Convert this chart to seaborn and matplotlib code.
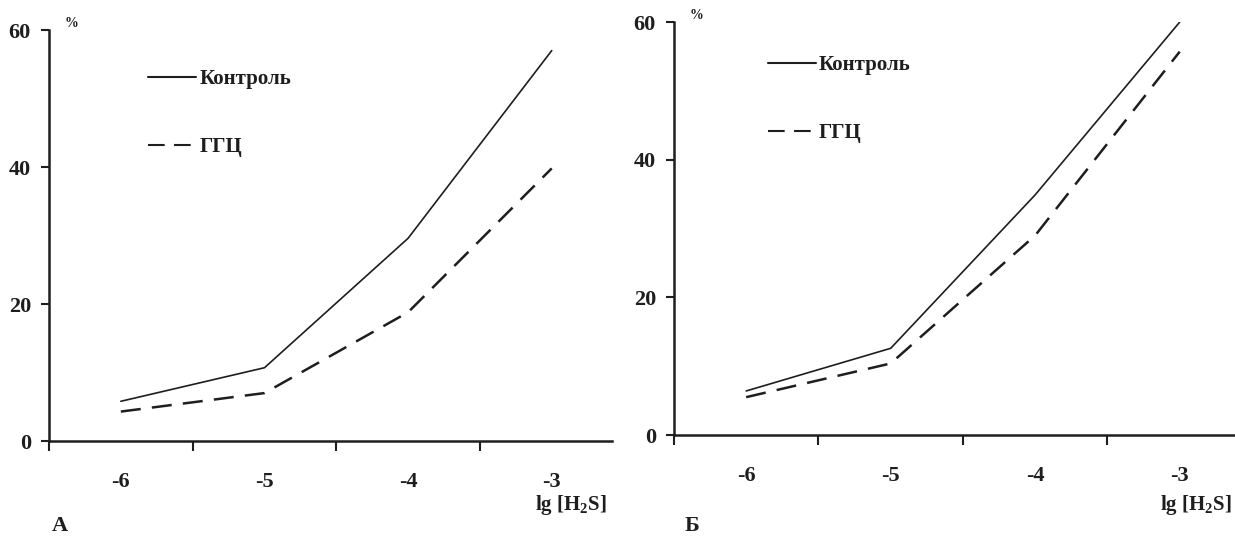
import numpy as np
import pandas as pd
import matplotlib
matplotlib.use("Agg")
import matplotlib.pyplot as plt
import seaborn as sns

# данные
lg_h2s = [-6, -5, -4, -3]
x_labels = ['-6', '-5', '-4', '-3']
series_names = ['Контроль', 'ГГЦ']

control_a = [5.8, 10.7, 29.6, 57.0]
ggc_a = [4.3, 7.0, 18.8, 39.8]

control_b = [6.4, 12.6, 34.9, 60.0]
ggc_b = [5.5, 10.4, 29.0, 55.7]

y_ticks = [0, 20, 40, 60]
panel_letters = ['А', 'Б']

sns.set_theme(style='white')
plt.rcParams['font.family'] = ['Liberation Serif', 'DejaVu Serif']
plt.rcParams['font.weight'] = 'bold'
plt.rcParams['axes.unicode_minus'] = False
plt.rcParams['mathtext.fontset'] = 'custom'
plt.rcParams['mathtext.rm'] = 'Liberation Serif:bold'
plt.rcParams['mathtext.it'] = 'Liberation Serif:bold'
plt.rcParams['mathtext.bf'] = 'Liberation Serif:bold'

INK = '#1e1e1e'


def make_df(control, ggc):
    rows = []
    for name, vals in zip(series_names, [control, ggc]):
        for x, v in zip(lg_h2s, vals):
            rows.append({'lg': x, 'val': v, 'group': name})
    return pd.DataFrame(rows)


def draw_panel(ax, df, legend_anchor):
    sns.lineplot(data=df, x='lg', y='val', style='group',
                 style_order=series_names,
                 dashes={'Контроль': '', 'ГГЦ': (8, 4.5)},
                 color=INK, ax=ax, legend=True)
    # толщина линий
    for line in ax.get_lines():
        if line.get_linestyle() == '-':
            line.set_linewidth(1.2)
        else:
            line.set_linewidth(1.8)

    ax.set_xlim(-6.5, -2.58)
    ax.set_ylim(0, 60)
    ax.set_xticks(lg_h2s)
    ax.set_xticklabels(x_labels, fontsize=16, fontweight='bold')
    ax.set_xticks([x - 0.5 for x in lg_h2s], minor=True)
    ax.set_yticks(y_ticks)
    ax.set_yticklabels([str(t) for t in y_ticks], fontsize=16, fontweight='bold')
    ax.tick_params(axis='x', which='major', length=0, pad=22, colors=INK)
    ax.tick_params(axis='x', which='minor', length=7, width=1.5,
                   direction='out', bottom=True, color=INK)
    ax.tick_params(axis='y', which='major', length=6, width=1.5,
                   direction='out', left=True, pad=7, colors=INK)

    for side in ['top', 'right']:
        ax.spines[side].set_visible(False)
    for side in ['left', 'bottom']:
        ax.spines[side].set_linewidth(1.8)
        ax.spines[side].set_color(INK)
    ax.set_xlabel('')
    ax.set_ylabel('')
    ax.grid(False)

    sns.move_legend(ax, 'upper left', bbox_to_anchor=legend_anchor,
                    frameon=False, title=None, fontsize=15,
                    handlelength=2.3, handletextpad=0.15,
                    labelspacing=2.3, borderpad=0, borderaxespad=0)
    for txt in ax.get_legend().get_texts():
        txt.set_fontweight('bold')
        txt.set_color(INK)

    ax.text(0.04, 1.0, '%', transform=ax.transAxes, fontsize=10,
            fontweight='bold', color=INK, ha='center', va='bottom')
    return ax


fig = plt.figure(figsize=(12.35, 5.4), dpi=100)
ax_a = fig.add_axes([0.0397, 0.1833, 0.4559, 0.7611])
ax_b = fig.add_axes([0.5457, 0.1944, 0.4587, 0.7648])

draw_panel(ax_a, make_df(control_a, ggc_a), (0.176, 0.905))
draw_panel(ax_b, make_df(control_b, ggc_b), (0.166, 0.92))

# подписи оси x
fig.text(607 / 1235, 1 - 505 / 540, 'lg [H$_2$S]', fontsize=15,
         fontweight='bold', color=INK, ha='right', va='center')
fig.text(1232 / 1235, 1 - 505 / 540, 'lg [H$_2$S]', fontsize=15,
         fontweight='bold', color=INK, ha='right', va='center')

# буквы панелей
fig.text(60 / 1235, 1 - 526 / 540, panel_letters[0], fontsize=16,
         fontweight='bold', color=INK, ha='center', va='center')
fig.text(692 / 1235, 1 - 526 / 540, panel_letters[1], fontsize=16,
         fontweight='bold', color=INK, ha='center', va='center')

fig.savefig('out.png', dpi=100)
